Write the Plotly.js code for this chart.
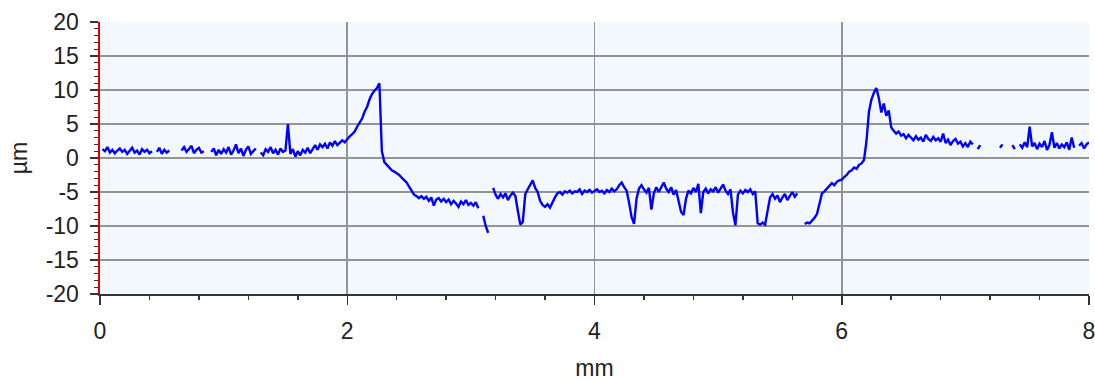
<!DOCTYPE html>
<html>
<head>
<meta charset="utf-8">
<script src="https://cdn.plot.ly/plotly-3.0.1.min.js"></script>
<style>html,body{margin:0;padding:0;background:#fff;}#chart{width:1095px;height:381px;}</style>
</head>
<body>
<div id="chart"></div>
<script>
// Profile sampled every 0.02 mm starting at 0 mm (null = no data)
const startMm = 0;
const stepMm = 0.02;
const heightUm = [
  null, 1.3, 1.0, 1.6, 0.8, 1.2, 0.7, 1.1, 1.4, 0.9,
  1.2, 0.6, 1.0, 1.5, 0.8, 1.1, 0.5, 1.3, 0.9, 1.2,
  0.7, 1.0, null, 0.9, 1.5, 0.6, 1.2, 0.8, 1.1, null,
  null, null, null, 1.1, 1.6, 0.9, 1.3, 1.8, 0.7, 1.2,
  1.5, 0.8, 1.0, null, null, 0.9, 1.4, 0.4, 1.2, 0.6,
  1.3, 0.8, 1.6, 0.5, 1.1, 2.0, 0.7, 1.4, 0.3, 1.2,
  1.7, 0.6, 1.0, 1.4, null, 0.8, 0.4, 1.3, 0.9, 1.6,
  0.7, 1.2, 0.5, 1.4, 0.9, 1.1, 5.0, 0.6, 1.3, 0.2,
  1.0, 0.4, 1.2, 0.8, 1.5, 0.7, 1.3, 1.9, 1.2, 2.0,
  1.6, 2.1, 1.4, 2.3, 1.8, 2.5, 1.9, 2.2, 2.6, 2.3,
  2.8, 3.2, 3.5, 3.9, 4.6, 5.2, 5.8, 6.8, 7.5, 8.6,
  9.4, 9.9, 10.3, 11.0, 1.0, -0.6, -1.0, -1.3, -1.8, -2.0,
  -2.2, -2.5, -2.9, -3.2, -3.6, -4.2, -4.8, -5.4, -5.6, -5.9,
  -5.6, -6.0, -5.7, -6.3, -5.8, -7.0, -6.1, -5.9, -6.4, -6.0,
  -6.5, -6.1, -6.8, -6.3, -6.7, -7.2, -6.4, -6.8, -6.2, -6.9,
  -6.6, -7.0, -6.5, -7.4, null, -8.5, -10.0, -11.0, null, -4.4,
  -5.4, -6.0, -5.3, -5.8, -5.2, -6.2, -5.5, -5.1, -5.6, -7.8,
  -9.8, -9.4, -5.3, -4.6, -3.9, -3.3, -4.4, -5.0, -6.3, -6.9,
  -7.2, -6.8, -7.3, -6.5, -5.8, -5.2, -5.0, -5.4, -4.9, -5.1,
  -4.8, -5.2, -4.9, -5.0, -4.6, -5.3, -4.8, -5.0, -4.7, -5.1,
  -4.9, -4.6, -5.0, -4.8, -5.2, -4.7, -5.0, -4.5, -4.9, -4.6,
  -4.0, -3.6, -4.3, -4.8, -6.6, -8.7, -9.7, -6.0, -4.5, -4.0,
  -4.6, -5.1, -4.4, -7.6, -5.2, -4.3, -5.0, -4.4, -3.6, -4.5,
  -5.0, -4.3, -5.4, -4.7, -6.2, -7.9, -8.4, -6.0, -4.8, -5.2,
  -4.4, -5.0, -3.8, -8.1, -5.0, -4.5, -5.2, -4.6, -4.9, -4.3,
  -5.1, -4.5, -3.9, -4.8, -5.3, -4.6, -8.0, -9.9, -5.4, -4.8,
  -5.2, -4.7, -5.0, -4.6, -5.3, -4.9, -9.6, -9.8, -9.5, -9.8,
  -7.5, -5.8, -5.3, -6.0, -5.5, -6.5, -5.8, -5.3, -6.2, -5.6,
  -5.0, -5.7, -5.2, null, null, -9.7, -9.5, -9.6, -9.2, -8.8,
  -8.2, -6.8, -5.2, -4.9, -4.5, -4.0, -3.7, -4.0, -3.5, -3.3,
  -3.2, -2.8, -2.5, -2.0, -1.8, -1.4, -1.6, -1.0, -0.8, -0.3,
  2.5, 6.8, 8.6, 9.6, 10.3, 8.8, 6.7, 8.0, 6.2, 7.0,
  4.5, 4.0, 3.6, 3.9, 3.3, 3.5, 2.9, 3.4, 3.0, 2.6,
  3.2, 2.7, 3.0, 2.4, 3.4, 2.8, 2.5, 3.1, 2.6, 2.9,
  2.4, 3.6, 2.2, 2.7, 1.9, 2.5, 2.8, 2.1, 2.4, 1.7,
  2.2, 1.6, 2.4, 2.0, null, 1.3, 1.9, null, 2.1, null,
  1.2, null, 1.8, null, 1.5, 2.0, null, 1.4, null, 1.9,
  1.3, null, 2.0, 1.5, 2.3, 1.6, 4.6, 1.7, 2.2, 1.3,
  2.1, 1.6, 2.5, 1.2, 1.9, 3.8, 1.5, 2.2, 1.4, 2.0,
  1.6, 2.3, 1.2, 3.0, 1.5, null, 1.8, 2.2, 1.4, 2.0,
  2.3
];
const xTickVals = [0, 2, 4, 6, 8];
const xTickText = ['0', '2', '4', '6', '8'];
const yTickVals = [-20, -15, -10, -5, 0, 5, 10, 15, 20];
const yTickText = ['-20', '-15', '-10', '-5', '0', '5', '10', '15', '20'];
const xTitle = 'mm';
const yTitle = 'µm';

const font = 'Liberation Sans, Arial, sans-serif';
const trace = {
  type: 'scatter',
  mode: 'lines',
  x0: startMm,
  dx: stepMm,
  y: heightUm,
  connectgaps: false,
  line: {color: '#0000ff', width: 2.4},
  hoverinfo: 'skip'
};

const layout = {
  width: 1095,
  height: 381,
  margin: {l: 100, r: 6, t: 22, b: 87},
  paper_bgcolor: '#ffffff',
  plot_bgcolor: '#f3f8fe',
  showlegend: false,
  font: {family: font, size: 23, color: '#222'},
  xaxis: {
    range: [0, 8],
    tickvals: xTickVals,
    ticktext: xTickText,
    ticks: 'outside',
    ticklen: 9,
    tickwidth: 1.5,
    tickcolor: '#333',
    ticklabelstandoff: 6,
    ticklabeloverflow: 'allow',
    showline: true,
    linecolor: '#333',
    linewidth: 2,
    showgrid: true,
    gridcolor: '#949494',
    gridwidth: 1.6,
    zeroline: false,
    minor: {dtick: 0.4, tick0: 0, ticks: 'outside', ticklen: 4, tickwidth: 1.5, tickcolor: '#333', showgrid: false},
    title: {text: xTitle, font: {family: font, size: 23, color: '#222'}, standoff: 20},
    fixedrange: true
  },
  yaxis: {
    range: [-20, 20],
    tickvals: yTickVals,
    ticktext: yTickText,
    ticks: 'outside',
    ticklen: 8,
    tickwidth: 1.5,
    tickcolor: '#333',
    ticklabelstandoff: 6,
    showline: true,
    linecolor: '#e00000',
    linewidth: 2.5,
    showgrid: true,
    gridcolor: '#949494',
    gridwidth: 1.6,
    zeroline: false,
    minor: {dtick: 1, tick0: 0, ticks: 'outside', ticklen: 4, tickwidth: 1.2, tickcolor: '#333', showgrid: false},
    title: {text: yTitle, font: {family: font, size: 23, color: '#222'}, standoff: 12},
    fixedrange: true
  }
};

Plotly.newPlot('chart', [trace], layout, {staticPlot: true, displayModeBar: false});
</script>
</body>
</html>
